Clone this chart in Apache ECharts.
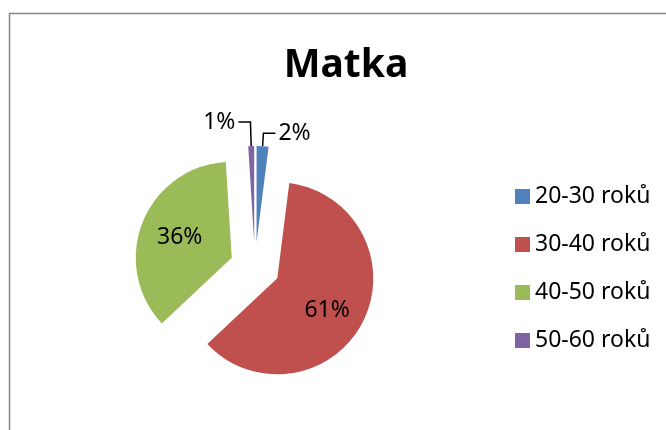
<!DOCTYPE html>
<html>
<head>
<meta charset="utf-8">
<script src="https://cdn.jsdelivr.net/npm/echarts@6/dist/echarts.min.js"></script>
<style>
  html, body { margin: 0; padding: 0; background: #fff; }
  #chart { width: 666px; height: 430px; }
</style>
</head>
<body>
<div id="chart"></div>
<script>
const categories = ['20-30 roků', '30-40 roků', '40-50 roků', '50-60 roků'];
const values = [2, 61, 36, 1];
const colors = ['#4F81BD', '#C0504D', '#9BBB59', '#8064A2'];
const insideLabel = [false, true, true, false];

const total = values.reduce((a, b) => a + b, 0);
// mid angle of every slice, clockwise from 12 o'clock
const midAngles = [];
let acc = 0;
values.forEach(v => {
  midAngles.push((acc + v / 2) / total * 2 * Math.PI);
  acc += v;
});

const chart = echarts.init(document.getElementById('chart'));
chart.setOption({
  animation: false,
  title: {
    text: 'Matka',
    left: 346,
    top: 46,
    padding: 0,
    textAlign: 'center',
    textStyle: {
      fontFamily: 'Noto Sans',
      fontWeight: 'bold',
      fontSize: 39,
      color: '#000'
    }
  },
  legend: {
    orient: 'vertical',
    left: 515,
    top: 185,
    padding: 0,
    icon: 'rect',
    itemWidth: 15,
    itemHeight: 15,
    itemGap: 25,
    selectedMode: false,
    textStyle: {
      fontFamily: 'Noto Sans',
      fontSize: 23,
      lineHeight: 20,
      color: '#000'
    },
    data: categories
  },
  graphic: [{
    type: 'rect',
    shape: { x: 9.5, y: 13.5, width: 700, height: 500 },
    style: { fill: 'none', stroke: '#878787', lineWidth: 1.5 },
    silent: true
  }],
  series: [{
    type: 'pie',
    center: [255, 267],
    radius: 96,
    startAngle: 90,
    clockwise: true,
    selectedMode: 'multiple',
    selectedOffset: 25,
    avoidLabelOverlap: false,
    emphasis: { disabled: true },
    label: {
      formatter: '{d}%',
      fontFamily: 'Noto Sans',
      fontSize: 23,
      color: '#000',
      distanceToLabelLine: 3
    },
    labelLine: {
      lineStyle: { color: '#000', width: 1.5 }
    },
    labelLayout: function (params) {
      const i = params.dataIndex;
      if (insideLabel[i]) {
        // Excel puts inside labels a bit further out than half radius
        return { dx: 5 * Math.sin(midAngles[i]), dy: -5 * Math.cos(midAngles[i]) + (i === 1 ? 7 : 0) };
      }
      return {};
    },
    data: categories.map((name, i) => ({
      name: name,
      value: values[i],
      selected: true,
      itemStyle: { color: colors[i] },
      select: { itemStyle: { color: colors[i] } },
      label: { position: insideLabel[i] ? 'inside' : 'outside' },
      labelLine: {
        show: !insideLabel[i],
        length: i === 0 ? 13 : 24,
        length2: 12
      }
    }))
  }]
});
</script>
</body>
</html>
